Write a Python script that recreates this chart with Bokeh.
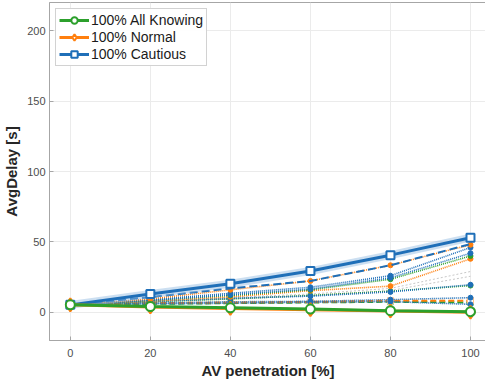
from bokeh.plotting import figure
from bokeh.models import Range1d, FixedTicker, Legend
from bokeh.embed import file_html
from bokeh.resources import INLINE

# ---- data ----
penetration = [0, 20, 40, 60, 80, 100]

all_knowing_100 = [5.3, 4.1, 3.2, 2.3, 1.2, 0.5]
normal_100 = [5.3, 3.8, 2.8, 1.9, 0.9, 0.1]
cautious_100 = [5.3, 13.0, 20.3, 29.3, 40.6, 53.0]

blue_dash = [5.3, 10.8, 17.0, 22.3, 33.4, 48.5]
blue_dot1 = [5.3, 9.0, 13.5, 17.8, 26.0, 46.0]
blue_dot2 = [5.3, 8.5, 12.5, 16.5, 24.5, 42.0]
blue_dot3 = [5.3, 7.5, 10.0, 11.5, 14.5, 19.6]
blue_dot4 = [5.3, 6.5, 7.5, 7.8, 9.0, 10.4]
blue_dot5 = [5.3, 6.0, 6.5, 7.2, 7.6, 5.7]

orange_dot1 = [5.3, 9.5, 16.0, 22.3, 33.4, 48.0]
orange_dot2 = [5.3, 8.0, 11.0, 15.4, 18.6, 38.0]
orange_dash = [5.3, 6.5, 7.0, 7.4, 8.3, 8.3]

green_dot1 = [5.3, 8.5, 12.0, 16.0, 23.5, 40.0]
green_dot2 = [5.3, 7.5, 9.5, 12.0, 15.0, 19.0]
green_dash = [5.3, 6.0, 6.5, 7.0, 7.5, 7.0]

gray1 = [5.3, 8.0, 10.5, 13.0, 17.0, 29.0]
gray2 = [5.3, 7.5, 9.5, 12.0, 15.5, 25.6]

x_ticks = [0, 20, 40, 60, 80, 100]
y_ticks = [0, 50, 100, 150, 200]

BLUE = "#1f6fb8"
ORANGE = "#ff7f0e"
GREEN = "#2ca02c"
FONT = "Liberation Sans"

p = figure(output_backend="svg", toolbar_location=None,
           frame_width=437, frame_height=338,
           x_range=Range1d(-5.2, 104), y_range=Range1d(-20, 220),
           min_border_left=38, min_border_top=2, min_border_right=2,
           min_border_bottom=39)
p.background_fill_color = "white"
p.border_fill_color = "white"
p.outline_line_color = "#a6a6a6"
p.outline_line_width = 1

for ax in (p.xaxis[0], p.yaxis[0]):
    ax.axis_line_color = "#a6a6a6"
    ax.major_tick_line_color = "#a6a6a6"
    ax.major_tick_in = 4
    ax.major_tick_out = 0
    ax.minor_tick_line_color = None
    ax.major_label_text_font = FONT
    ax.major_label_text_font_size = "11px"
    ax.major_label_text_color = "#4d4d4d"
    ax.axis_label_text_font = FONT
    ax.axis_label_text_font_size = "15px"
    ax.axis_label_text_font_style = "bold"
    ax.axis_label_text_color = "#262626"

p.xaxis.ticker = FixedTicker(ticks=x_ticks)
p.yaxis.ticker = FixedTicker(ticks=y_ticks)
p.xaxis.axis_label = "AV penetration [%]"
p.yaxis.axis_label = "AvgDelay [s]"
p.xaxis.major_label_standoff = 8
p.yaxis.major_label_standoff = 4
p.xaxis.axis_label_standoff = 2
p.yaxis.axis_label_standoff = 4

p.grid.grid_line_color = "#ebebeb"
p.grid.grid_line_width = 1

# thin background lines
p.line(penetration, gray1, line_color="#c8c8c8", line_width=1, line_dash="2 2")
p.line(penetration, gray2, line_color="#c8c8c8", line_width=1, line_dash="2 2")

# dotted/dashed mixes
def dotted(vals, color, dash="1 1", width=1.6, marker=True):
    p.line(penetration, vals, line_color=color, line_width=width, line_dash=dash)
    if marker:
        p.scatter(penetration[1:], vals[1:], marker="circle", size=5,
                  fill_color=color, line_color=color)

dotted(green_dash, GREEN, dash="6 3", width=2, marker=False)
p.scatter(penetration[1:], green_dash[1:], marker="square", size=6,
          fill_color="white", line_color="#8fd18f", line_width=1)
dotted(orange_dash, ORANGE, dash="6 3", width=2, marker=False)
p.scatter(penetration[1:], orange_dash[1:], marker="square", size=6,
          fill_color="white", line_color="#ffbf87", line_width=1)
dotted(blue_dot5, BLUE)
dotted(blue_dot4, BLUE)
dotted(green_dot2, GREEN)
dotted(blue_dot3, BLUE)
dotted(orange_dot2, ORANGE)
dotted(green_dot1, GREEN)
dotted(blue_dot2, BLUE)
dotted(blue_dot1, BLUE)
dotted(orange_dot1, ORANGE)
p.line(penetration, blue_dash, line_color=BLUE, line_width=2, line_dash="8 4")

# main series
p.line(penetration, cautious_100, line_color="#8fb8e0", line_width=8, line_alpha=0.45)
r1 = p.line(penetration, cautious_100, line_color=BLUE, line_width=3)
r2 = p.scatter(penetration, cautious_100, marker="square", size=8,
               fill_color="white", line_color=BLUE, line_width=2)
r3 = p.line(penetration, normal_100, line_color=ORANGE, line_width=3)
r4 = p.scatter(penetration, normal_100, marker="diamond", size=13,
               fill_color="white", line_color=ORANGE, line_width=2)
r5 = p.line(penetration, all_knowing_100, line_color=GREEN, line_width=3)
r6 = p.scatter(penetration, all_knowing_100, marker="circle", size=9,
               fill_color="white", line_color=GREEN, line_width=2)

legend = Legend(items=[("100% All Knowing", [r5, r6]),
                       ("100% Normal", [r3, r4]),
                       ("100% Cautious", [r1, r2])],
                location="top_left")
legend.label_text_font = FONT
legend.label_text_font_size = "14px"
legend.label_text_color = "#1a1a1a"
legend.border_line_color = "#a6a6a6"
legend.border_line_width = 1
legend.glyph_width = 30
legend.glyph_height = 16
legend.label_height = 16
legend.spacing = 1
legend.padding = 3
legend.margin = 6
legend.label_standoff = 2
p.add_layout(legend)

open("out.html", "w").write(file_html(p, INLINE))
